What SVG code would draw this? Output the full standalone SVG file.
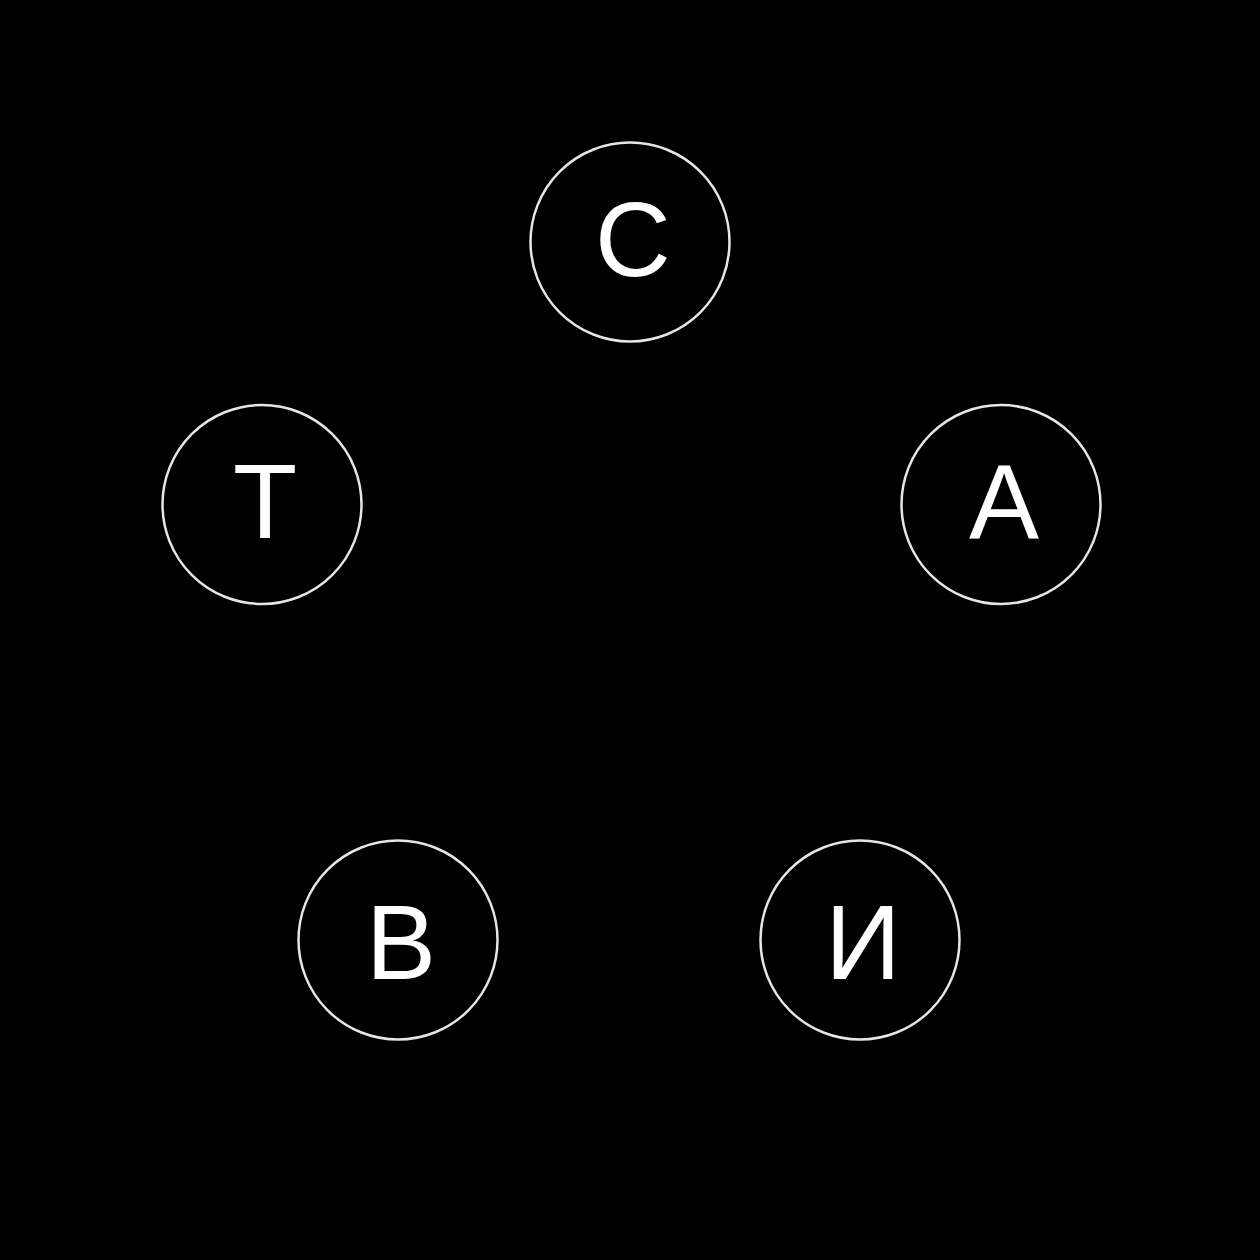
<svg xmlns="http://www.w3.org/2000/svg" width="1260" height="1260" viewBox="0 0 1260 1260">
<style>
.node circle{fill:#000;stroke:#e6e6e6;stroke-width:2.5}
.node text{fill:#fff;font-family:"Liberation Sans",Arial,sans-serif;font-size:105px;text-anchor:middle}
</style>
<rect width="1260" height="1260" fill="#000"/>
<g id="connectors"></g>
<g id="node-s" class="node"><circle cx="630" cy="242" r="99.5"/><text x="633" y="275.5">С</text></g>
<g id="node-a" class="node"><circle cx="1001" cy="504.5" r="99.5"/><text x="1004" y="538">А</text></g>
<g id="node-i" class="node"><circle cx="860" cy="940" r="99.5"/><text x="863" y="979">И</text></g>
<g id="node-v" class="node"><circle cx="398" cy="940" r="99.5"/><text x="401" y="979">В</text></g>
<g id="node-t" class="node"><circle cx="262" cy="504.5" r="99.5"/><text x="265" y="538">Т</text></g>
</svg>
